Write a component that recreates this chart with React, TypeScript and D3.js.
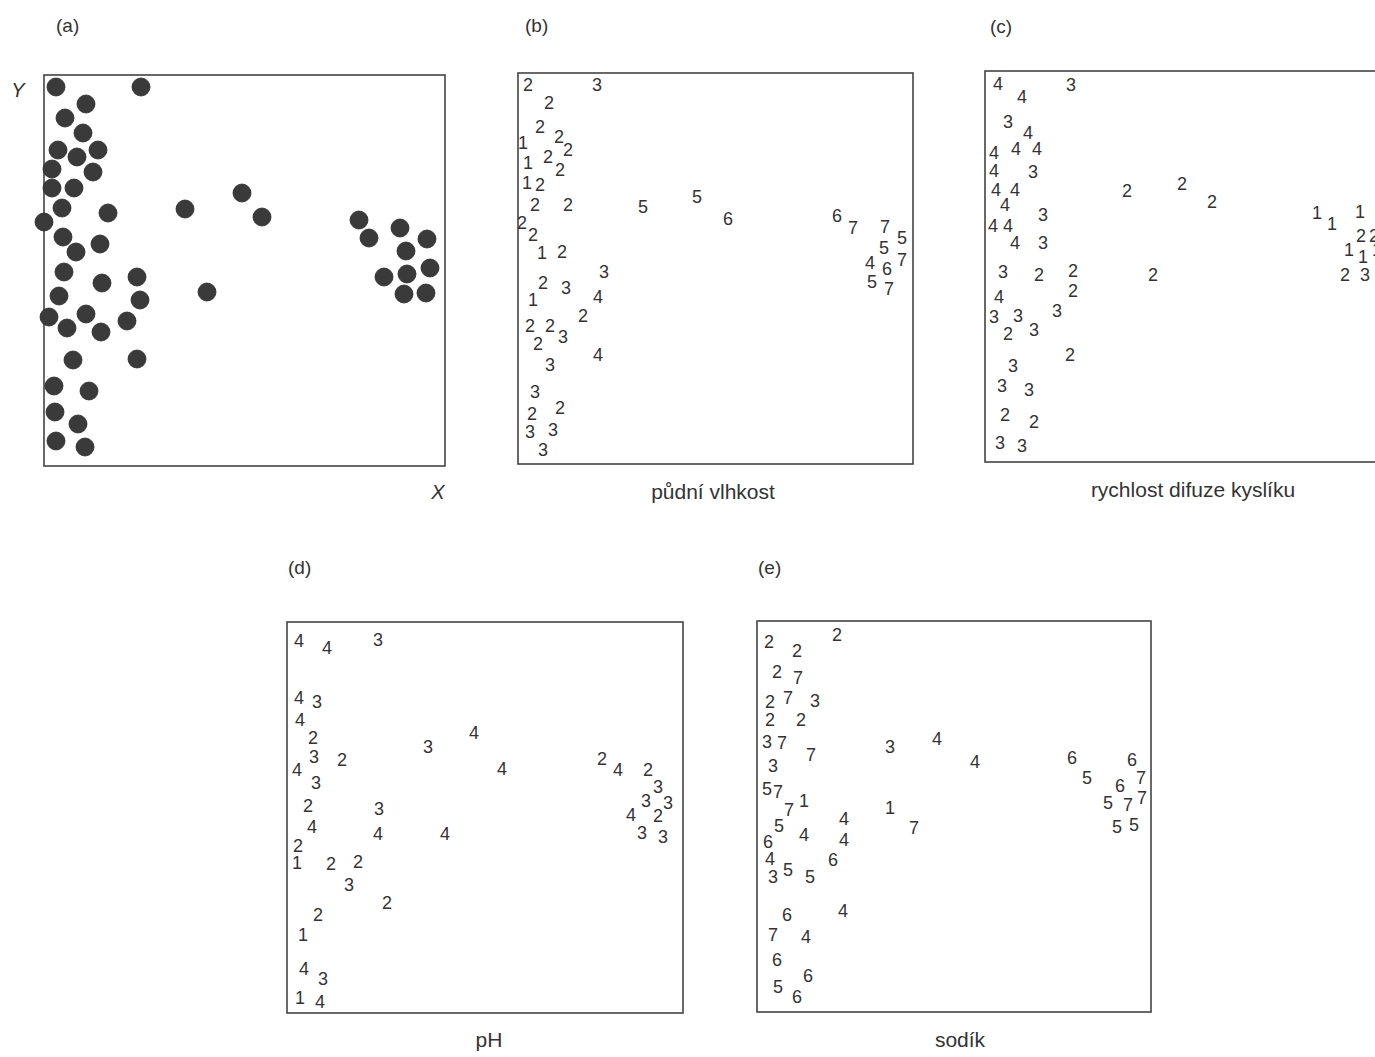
import React, { useEffect, useRef } from 'react';
import * as d3 from 'd3';

const W = 1375;
const H = 1057;
const BOX_H = 391;

// (a) sample plot positions, X / Y in plot units
const plotXY = [
  [12, 379], [97, 379], [42, 362], [21, 348], [39, 333], [14, 316], [54, 316], [33, 309],
  [8, 297], [49, 294], [8, 278], [30, 278], [18, 258], [64, 253], [0, 244], [141, 257],
  [198, 273], [218, 249], [19, 229], [32, 214], [56, 222], [315, 246], [325, 228], [356, 238],
  [383, 227], [362, 215], [386, 198], [340, 189], [363, 192], [360, 172], [382, 173], [20, 194],
  [58, 183], [93, 189], [15, 170], [96, 166], [163, 174], [5, 149], [42, 152], [23, 138],
  [57, 134], [83, 145], [29, 106], [93, 107], [10, 80], [45, 75], [11, 54], [34, 42],
  [12, 25], [41, 19],
];

// (b) soil moisture class per plot: [x, y, class]
const soilMoisture = [
  [10, 379, 2], [79, 379, 3], [31, 361, 2], [22, 337, 2], [41, 327, 2], [5, 321, 1],
  [50, 314, 2], [10, 301, 1], [30, 307, 2], [42, 294, 2], [9, 281, 1], [22, 279, 2],
  [17, 259, 2], [50, 259, 2], [4, 241, 2], [15, 229, 2], [24, 211, 1], [44, 212, 2],
  [86, 192, 3], [25, 181, 2], [48, 176, 3], [80, 167, 4], [15, 164, 1], [65, 148, 2],
  [12, 138, 2], [32, 138, 2], [45, 127, 3], [20, 120, 2], [80, 109, 4], [32, 99, 3],
  [17, 72, 3], [42, 56, 2], [14, 50, 2], [35, 34, 3], [12, 32, 3], [25, 14, 3],
  [125, 257, 5], [179, 267, 5], [210, 245, 6], [319, 248, 6], [335, 236, 7], [367, 237, 7],
  [384, 226, 5], [366, 216, 5], [384, 204, 7], [352, 201, 4], [369, 195, 6], [354, 182, 5],
  [371, 175, 7],
];

// (c) oxygen diffusion rate class
const oxygenDiffusion = [
  [13, 378, 4], [86, 377, 3], [37, 365, 4], [23, 340, 3], [43, 329, 4], [9, 309, 4],
  [31, 313, 4], [52, 313, 4], [9, 291, 4], [48, 290, 3], [11, 272, 4], [30, 272, 4],
  [20, 257, 4], [58, 247, 3], [8, 236, 4], [23, 236, 4], [30, 219, 4], [58, 219, 3],
  [18, 190, 3], [54, 187, 2], [88, 191, 2], [88, 171, 2], [14, 165, 4], [9, 145, 3],
  [33, 146, 3], [72, 151, 3], [23, 128, 2], [49, 132, 3], [85, 107, 2], [28, 96, 3],
  [17, 76, 3], [44, 72, 3], [20, 47, 2], [49, 40, 2], [15, 19, 3], [37, 16, 3],
  [142, 271, 2], [197, 278, 2], [227, 260, 2], [168, 187, 2], [332, 249, 1], [347, 238, 1],
  [375, 250, 1], [376, 226, 2], [389, 226, 2], [364, 212, 1], [378, 205, 1], [392, 212, 1],
  [360, 187, 2], [380, 187, 3],
];

// (d) pH class
const soilPH = [
  [12, 372, 4], [40, 365, 4], [91, 373, 3], [12, 315, 4], [30, 311, 3], [13, 293, 4],
  [26, 275, 2], [27, 256, 3], [55, 253, 2], [10, 243, 4], [29, 230, 3], [21, 207, 2],
  [92, 204, 3], [25, 186, 4], [91, 179, 4], [158, 179, 4], [11, 167, 2], [10, 150, 1],
  [44, 149, 2], [71, 151, 2], [62, 128, 3], [100, 110, 2], [31, 98, 2], [16, 78, 1],
  [17, 44, 4], [36, 34, 3], [13, 15, 1], [33, 11, 4],
  [141, 266, 3], [187, 280, 4], [215, 244, 4], [315, 254, 2], [331, 243, 4], [361, 243, 2],
  [371, 226, 3], [359, 212, 3], [381, 210, 3], [344, 198, 4], [371, 197, 2], [355, 180, 3],
  [376, 176, 3],
];

// (e) sodium class
const sodium = [
  [12, 370, 2], [40, 361, 2], [80, 377, 2], [20, 340, 2], [41, 334, 7], [13, 310, 2],
  [31, 314, 7], [58, 311, 3], [13, 292, 2], [44, 292, 2], [10, 270, 3], [25, 269, 7],
  [54, 257, 7], [16, 246, 3], [10, 223, 5], [21, 220, 7], [32, 202, 7], [47, 211, 1],
  [22, 186, 5], [47, 177, 4], [87, 193, 4], [87, 172, 4], [11, 170, 6], [13, 153, 4],
  [16, 135, 3], [31, 142, 5], [53, 135, 5], [76, 152, 6], [86, 101, 4], [30, 97, 6],
  [16, 77, 7], [49, 75, 4], [20, 52, 6], [51, 36, 6], [21, 25, 5], [40, 15, 6],
  [133, 265, 3], [180, 273, 4], [218, 250, 4], [133, 204, 1], [157, 184, 7], [315, 254, 6],
  [330, 234, 5], [375, 252, 6], [384, 234, 7], [363, 226, 6], [351, 209, 5], [371, 207, 7],
  [385, 214, 7], [360, 185, 5], [377, 187, 5],
];

const panels = [
  { tag: '(a)', left: 44, top: 75, w: 401, tagX: 56, tagY: 25, caption: '', capX: 0, capY: 0, labels: null },
  { tag: '(b)', left: 518, top: 73, w: 395, tagX: 525, tagY: 25, caption: 'půdní vlhkost', capX: 713, capY: 492, labels: soilMoisture },
  { tag: '(c)', left: 985, top: 71, w: 400, tagX: 990, tagY: 26, caption: 'rychlost difuze kyslíku', capX: 1193, capY: 490, labels: oxygenDiffusion },
  { tag: '(d)', left: 287, top: 622, w: 396, tagX: 288, tagY: 567, caption: 'pH', capX: 489, capY: 1040, labels: soilPH },
  { tag: '(e)', left: 757, top: 621, w: 394, tagX: 758, tagY: 567, caption: 'sodík', capX: 960, capY: 1040, labels: sodium },
];

const FONT = '"Liberation Sans", Arial, Helvetica, sans-serif';
const INK = '#333';

const App = () => {
  const svgRef = useRef(null);

  useEffect(() => {
    const svg = d3.select(svgRef.current);
    svg.selectAll('*').remove();

    svg.append('rect').attr('width', W).attr('height', H).attr('fill', '#fff');

    panels.forEach((p) => {
      const x = d3.scaleLinear().domain([0, p.w]).range([p.left, p.left + p.w]);
      const y = d3.scaleLinear().domain([0, BOX_H]).range([p.top + BOX_H, p.top]);
      const g = svg.append('g');

      g.append('rect')
        .attr('x', x(0))
        .attr('y', y(BOX_H))
        .attr('width', x(p.w) - x(0))
        .attr('height', BOX_H)
        .attr('fill', 'none')
        .attr('stroke', '#444')
        .attr('stroke-width', 1.6);

      g.append('text')
        .attr('x', p.tagX)
        .attr('y', p.tagY)
        .attr('dy', '0.35em')
        .attr('font-family', FONT)
        .attr('font-size', 19)
        .attr('fill', INK)
        .text(p.tag);

      if (p.labels) {
        g.selectAll('text.v')
          .data(p.labels)
          .enter()
          .append('text')
          .attr('class', 'v')
          .attr('x', (d: any) => x(d[0]))
          .attr('y', (d: any) => y(d[1]))
          .attr('dy', '0.35em')
          .attr('text-anchor', 'middle')
          .attr('font-family', FONT)
          .attr('font-size', 18)
          .attr('fill', INK)
          .text((d: any) => d[2]);

        g.append('text')
          .attr('x', p.capX)
          .attr('y', p.capY)
          .attr('dy', '0.35em')
          .attr('text-anchor', 'middle')
          .attr('font-family', FONT)
          .attr('font-size', 21)
          .attr('fill', INK)
          .text(p.caption);
      } else {
        g.selectAll('circle')
          .data(plotXY)
          .enter()
          .append('circle')
          .attr('cx', (d: any) => x(d[0]))
          .attr('cy', (d: any) => y(d[1]))
          .attr('r', 9)
          .attr('fill', '#3a3a3a')
          .attr('stroke', '#2a2a2a')
          .attr('stroke-width', 0.8);

        // axis letters
        g.append('text')
          .attr('x', 18)
          .attr('y', 90)
          .attr('dy', '0.35em')
          .attr('text-anchor', 'middle')
          .attr('font-family', FONT)
          .attr('font-style', 'italic')
          .attr('font-size', 20)
          .attr('fill', INK)
          .text('Y');
        g.append('text')
          .attr('x', 438)
          .attr('y', 492)
          .attr('dy', '0.35em')
          .attr('text-anchor', 'middle')
          .attr('font-family', FONT)
          .attr('font-style', 'italic')
          .attr('font-size', 20)
          .attr('fill', INK)
          .text('X');
      }
    });
  }, []);

  return (
    <>
      <style>{'body{margin:0;overflow:hidden;background:#fff}'}</style>
      <svg ref={svgRef} width={W} height={H} style={{ display: 'block' }}></svg>
    </>
  );
};

export default App;
